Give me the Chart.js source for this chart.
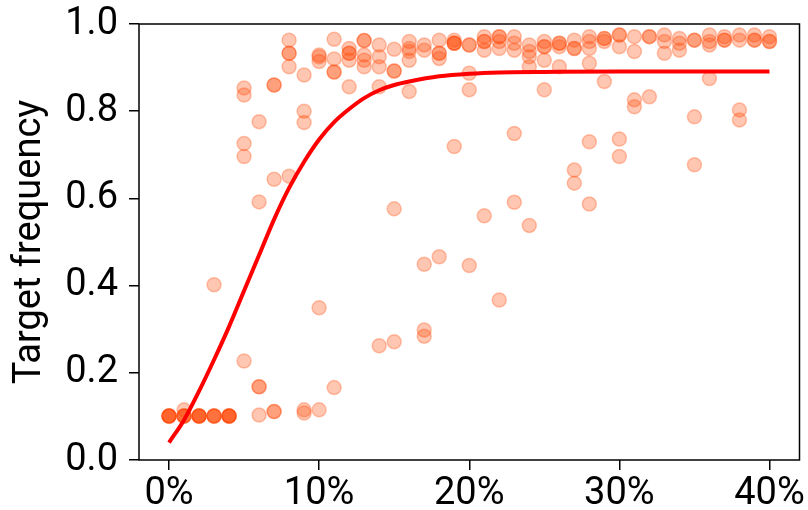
<!DOCTYPE html>
<html>
<head>
<meta charset="utf-8">
<script src="https://cdn.jsdelivr.net/npm/chart.js@4/dist/chart.umd.min.js"></script>
<style>
html,body{margin:0;padding:0;background:#fff;}
#wrap{width:808px;height:510px;}
</style>
</head>
<body>
<div id="wrap"><canvas id="c" width="808" height="510"></canvas></div>
<script>
// Scatter observations: x = percentage level, y = target frequency
const pointX = [
  0,0,0,0,0,
  1,1,1,1,1,
  2,2,2,2,2,
  3,3,3,3,3,
  4,4,4,4,4,
  5,5,5,5,5,
  6,6,6,6,6,
  7,7,7,7,7,
  8,8,8,8,8,
  9,9,9,9,9,
  10,10,10,10,10,
  11,11,11,11,11,
  12,12,12,12,12,
  13,13,13,13,13,
  14,14,14,14,14,
  15,15,15,15,15,
  16,16,16,16,16,
  17,17,17,17,17,
  18,18,18,18,18,
  19,19,19,19,19,
  20,20,20,20,20,
  21,21,21,21,21,
  22,22,22,22,22,
  23,23,23,23,23,
  24,24,24,24,24,
  25,25,25,25,25,
  26,26,26,26,
  27,27,27,27,27,
  28,28,28,28,28,28,
  29,29,29,29,
  30,30,30,30,30,
  31,31,31,31,
  32,32,32,
  33,33,33,
  34,34,34,
  35,35,35,35,
  36,36,36,36,
  37,37,37,
  38,38,38,38,
  39,39,39,
  40,40,40
];
const pointY = [
  0.101,0.101,0.101,0.101,0.101,
  0.101,0.101,0.101,0.101,0.115,
  0.101,0.101,0.101,0.101,0.101,
  0.101,0.101,0.101,0.101,0.402,
  0.101,0.101,0.101,0.101,0.101,
  0.853,0.837,0.726,0.696,0.227,
  0.776,0.592,0.168,0.168,0.103,
  0.860,0.860,0.644,0.111,0.111,
  0.963,0.933,0.933,0.902,0.651,
  0.883,0.800,0.774,0.115,0.108,
  0.929,0.925,0.914,0.349,0.115,
  0.965,0.920,0.890,0.890,0.166,
  0.944,0.933,0.933,0.917,0.856,
  0.962,0.962,0.929,0.917,0.902,
  0.952,0.925,0.902,0.856,0.262,
  0.942,0.892,0.892,0.576,0.271,
  0.960,0.944,0.937,0.917,0.845,
  0.952,0.940,0.449,0.298,0.284,
  0.963,0.933,0.933,0.921,0.466,
  0.963,0.956,0.956,0.956,0.719,
  0.952,0.952,0.887,0.849,0.446,
  0.971,0.960,0.960,0.940,0.560,
  0.971,0.971,0.960,0.944,0.367,
  0.971,0.956,0.940,0.749,0.591,
  0.952,0.937,0.925,0.902,0.538,
  0.960,0.948,0.948,0.917,0.849,
  0.956,0.956,0.948,0.902,
  0.963,0.944,0.944,0.665,0.635,
  0.971,0.960,0.944,0.910,0.730,0.587,
  0.967,0.967,0.960,0.868,
  0.975,0.975,0.948,0.736,0.696,
  0.971,0.937,0.826,0.810,
  0.971,0.971,0.833,
  0.975,0.960,0.933,
  0.967,0.956,0.940,
  0.963,0.963,0.787,0.677,
  0.975,0.960,0.952,0.875,
  0.971,0.963,0.963,
  0.975,0.963,0.803,0.780,
  0.975,0.963,0.963,
  0.971,0.960,0.960
];
// Fitted curve
const curveX = [0,1,2,3,4,5,6,7,8,9,10,11,12,13,14,15,16,18,20,22,25,30,35,40];
const curveY = [0.040,0.092,0.158,0.230,0.306,0.388,0.470,0.552,0.624,0.684,0.735,0.775,0.805,0.830,0.848,0.860,0.868,0.880,0.886,0.889,0.890,0.891,0.891,0.891];
// Axes
const xTicks = [0,10,20,30,40];
const yTicks = [0,0.2,0.4,0.6,0.8,1.0];
const yTitle = 'Target frequency';

const scatterData = pointX.map((x,i)=>({x:x, y:pointY[i]}));
const curveData = curveX.map((x,i)=>({x:x, y:curveY[i]}));

const FONT = 'Roboto';
const FS = 38;

const framePlugin = {
  id:'frame',
  afterDraw(chart){
    const {ctx, chartArea:a} = chart;
    ctx.save();
    ctx.strokeStyle = '#000';
    ctx.lineWidth = 1.5;
    ctx.strokeRect(a.left, a.top, a.right-a.left, a.bottom-a.top);
    ctx.restore();
  }
};

new Chart(document.getElementById('c'), {
  type:'scatter',
  data:{
    datasets:[
      {
        data:curveData,
        showLine:true,
        borderColor:'#ff0000',
        borderWidth:4,
        pointRadius:0,
        fill:false,
        cubicInterpolationMode:'monotone'
      },
      {
        data:scatterData,
        pointRadius:7,
        pointBorderWidth:1.5,
        backgroundColor:'rgba(255,69,0,0.3)',
        borderColor:'rgba(255,69,0,0.3)',
        showLine:false
      }
    ]
  },
  options:{
    responsive:false,
    animation:false,
    events:[],
    layout:{padding:{top:24,right:7,left:0,bottom:0}},
    plugins:{legend:{display:false},tooltip:{enabled:false}},
    scales:{
      x:{
        type:'linear',
        min:-2,max:42,
        afterBuildTicks(s){ s.ticks = xTicks.map(v=>({value:v})); },
        afterFit(s){ s.height = 50; },
        grid:{drawOnChartArea:false,drawTicks:true,tickLength:10,color:'#000',lineWidth:1.5},
        border:{display:false},
        ticks:{
          font:{family:FONT,size:FS},color:'#000',padding:2,maxRotation:0,
          callback:(v)=>v+'%'
        }
      },
      y:{
        type:'linear',
        min:0,max:1,
        afterBuildTicks(s){ s.ticks = yTicks.map(v=>({value:v})); },
        afterFit(s){ s.width = 139; },
        grid:{drawOnChartArea:false,drawTicks:true,tickLength:10,color:'#000',lineWidth:1.5},
        border:{display:false},
        ticks:{
          font:{family:FONT,size:FS,lineHeight:0.6},color:'#000',padding:11,
          callback:(v)=>Number(v).toFixed(1)
        },
        title:{
          display:true,text:yTitle,color:'#000',
          font:{family:FONT,size:FS},padding:{top:8,bottom:0}
        }
      }
    }
  },
  plugins:[framePlugin]
});
</script>
</body>
</html>
